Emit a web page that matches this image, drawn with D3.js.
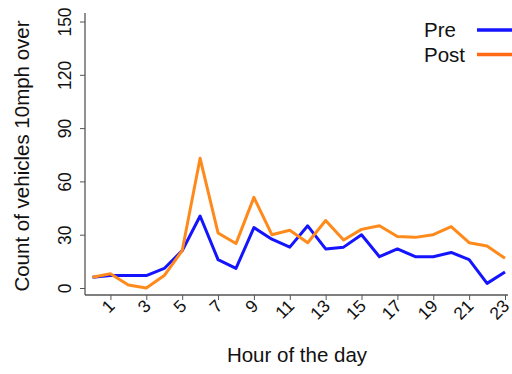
<!DOCTYPE html>
<html><head><meta charset="utf-8">
<script src="https://cdn.jsdelivr.net/npm/d3@7"></script>
<style>body{margin:0;background:#fff}svg{display:block;font-family:"Liberation Sans",Arial,sans-serif}</style>
</head><body>
<svg id="c" width="512" height="374"></svg>
<script>
const hours = d3.range(0, 24);
const preValues  = [6, 7, 7, 7, 11, 21, 40.5, 16, 11, 34, 27.5, 23, 35, 22, 23, 30, 17.6, 22, 17.6, 17.6, 20, 16, 2.6, 9];
const postValues = [6, 8, 1.7, 0, 7, 21, 73, 31, 25, 51, 30, 32.5, 25.5, 38, 27, 33, 35, 29, 28.5, 30, 34.5, 25.5, 23.6, 16.7];
const yTicks = [0, 30, 60, 90, 120, 150];
const xTicks = [1, 3, 5, 7, 9, 11, 13, 15, 17, 19, 21, 23];
const seriesNames = ["Pre", "Post"];
const colors = ["#1414ff", "#ff8a1c"];
const legendColors = ["#1414ff", "#ff6a14"];

const svg = d3.select("#c");
const x = d3.scaleLinear().domain([0, 23]).range([92.5, 505]);
const y = d3.scaleLinear().domain([0, 150]).range([288, 21.5]);

// axes
const yAxis = svg.append("g").attr("transform", "translate(85,0)")
  .call(d3.axisLeft(y).tickValues(yTicks).tickSize(5).tickFormat(d3.format("d")));
yAxis.select(".domain").attr("d", "M0,13V295").attr("stroke", "#555").attr("stroke-width", 1.3);
yAxis.selectAll(".tick line").attr("stroke", "#555");
yAxis.selectAll(".tick text").attr("font-size", 17.5).attr("fill", "#111")
  .attr("text-anchor", "middle").attr("x", 0).attr("y", 0).attr("dy", "0.36em")
  .attr("transform", "translate(-20,0) rotate(-90)");

const xAxis = svg.append("g").attr("transform", "translate(0,295)")
  .call(d3.axisBottom(x).tickValues(xTicks).tickSize(5).tickFormat(d3.format("d")));
xAxis.select(".domain").attr("d", "M85,0H508").attr("stroke", "#555").attr("stroke-width", 1.3);
xAxis.selectAll(".tick line").attr("stroke", "#555");
xAxis.selectAll(".tick text").attr("font-size", 17.5).attr("fill", "#111")
  .attr("text-anchor", "end").attr("y", 0).attr("dy", 0)
  .attr("transform", "translate(5,12) rotate(-45)");

// titles
svg.append("text").attr("x", 297).attr("y", 362).attr("text-anchor", "middle")
  .attr("font-size", 20.5).attr("fill", "#111").text("Hour of the day");
svg.append("text").attr("transform", "translate(22,156) rotate(-90)").attr("text-anchor", "middle")
  .attr("dy", "0.36em").attr("font-size", 20.5).attr("fill", "#111").text("Count of vehicles 10mph over");

// lines
const line = d3.line().x((d, i) => x(hours[i])).y(d => y(d));
[preValues, postValues].forEach((vals, k) => {
  svg.append("path").datum(vals).attr("d", line).attr("fill", "none")
    .attr("stroke", colors[k]).attr("stroke-width", 3).attr("stroke-linejoin", "round");
});

// legend
seriesNames.forEach((n, k) => {
  const yy = 30 + k * 24.5;
  svg.append("text").attr("x", 424).attr("y", yy + 7).attr("text-anchor", "start")
    .attr("font-size", 20.5).attr("fill", "#111").text(n);
  svg.append("line").attr("x1", 477).attr("x2", 512).attr("y1", yy).attr("y2", yy)
    .attr("stroke", legendColors[k]).attr("stroke-width", 3.5);
});
</script>
</body></html>
